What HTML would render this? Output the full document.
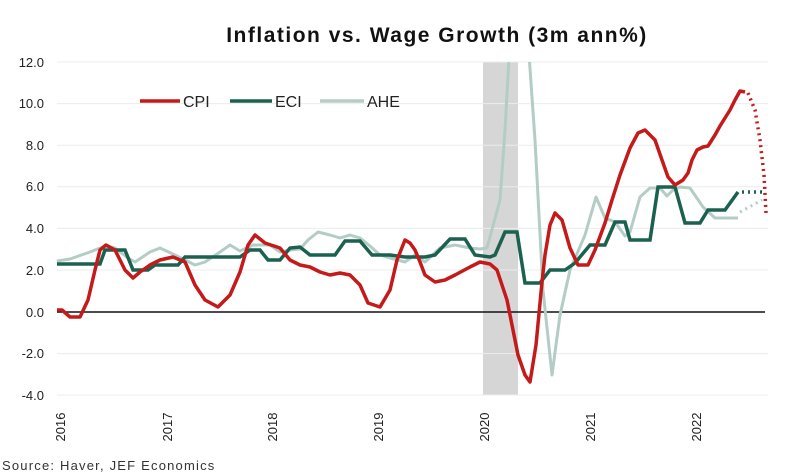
<!DOCTYPE html><html><head><style>body{margin:0;background:#fff}svg{display:block}</style></head><body>
<svg width="796" height="476" viewBox="0 0 796 476" font-family="Liberation Sans, sans-serif">
<text x="437" y="42" text-anchor="middle" font-size="21" font-weight="bold" letter-spacing="1.5" fill="#111">Inflation vs. Wage Growth (3m ann%)</text>
<rect x="483" y="62" width="35" height="333" fill="#d6d6d6"/>
<g stroke="#ececec" stroke-width="1">
<line x1="57" x2="768" y1="62" y2="62"/><line x1="57" x2="768" y1="103.6" y2="103.6"/><line x1="57" x2="768" y1="145.2" y2="145.2"/><line x1="57" x2="768" y1="186.8" y2="186.8"/><line x1="57" x2="768" y1="228.4" y2="228.4"/><line x1="57" x2="768" y1="270" y2="270"/><line x1="57" x2="768" y1="353.6" y2="353.6"/><line x1="57" x2="768" y1="395" y2="395"/></g>
<line x1="57" x2="765" y1="312" y2="312" stroke="#111" stroke-width="1.5"/>
<g font-size="13" fill="#222" text-anchor="end">
<text x="44" y="67">12.0</text><text x="44" y="108">10.0</text><text x="44" y="150">8.0</text><text x="44" y="191">6.0</text><text x="44" y="233">4.0</text><text x="44" y="275">2.0</text><text x="44" y="317">0.0</text><text x="44" y="358">-2.0</text><text x="44" y="400">-4.0</text></g>
<g font-size="13" fill="#222" text-anchor="middle">
<text transform="translate(65,427) rotate(-90)">2016</text><text transform="translate(172,427) rotate(-90)">2017</text><text transform="translate(277,427) rotate(-90)">2018</text><text transform="translate(383,427) rotate(-90)">2019</text><text transform="translate(489,427) rotate(-90)">2020</text><text transform="translate(595,427) rotate(-90)">2021</text><text transform="translate(701,427) rotate(-90)">2022</text></g>
<svg x="0" y="62" width="796" height="340" viewBox="0 62 796 340" overflow="hidden">
<polyline fill="none" stroke="#b3cdc6" stroke-width="3" stroke-linejoin="round" points="57,261 70,259 90,252 105,246 115,248 128,258 135,262 150,252 160,248 175,255 185,260 195,265 205,262 220,252 230,245 240,251 253,245 270,245 280,252 290,250 300,249 308,240 318,232 330,235 340,238 350,235 360,238 370,246 380,255 390,258 405,262 415,255 425,262 440,248 455,245 470,248 480,249 487,248 500,200 505,130 510,40 528,40 535,140 543,290 552,375 560,315 570,270 585,235 596,197 605,218 615,222 625,236 630,232 640,197 650,188 660,188 667,196 673,190 680,187 690,188 703,207 715,218 738,218"/>
</svg>
<polyline fill="none" stroke="#b3cdc6" stroke-width="3" stroke-dasharray="2 4" points="740,212 762,200"/>
<polyline fill="none" stroke="#1b6150" stroke-width="3.5" points="57,264 100,264 105,250 125,250 133,270 148,270 155,265 178,265 185,257 240,257 250,250 260,250 268,260 280,260 290,248 300,247 310,255 335,255 345,241 360,241 372,255 390,255 405,257 425,257 435,255 450,239 465,239 475,255 490,257 495,255 505,232 517,232 525,283 540,283 550,270 565,270 575,263 590,245 605,245 615,222 625,222 630,240 650,240 658,187 675,187 685,223 700,223 708,210 725,210 738,192"/>
<polyline fill="none" stroke="#1b6150" stroke-width="3.5" stroke-dasharray="2 4" points="742,192 762,192"/>
<polyline fill="none" stroke="#c41a1a" stroke-width="3.5" stroke-linejoin="round" points="57,310 62,310 70,317 80,317 88,300 95,270 100,250 106,245 115,250 125,270 133,278 140,272 150,265 160,260 173,257 185,262 195,285 205,300 218,307 230,295 240,272 248,245 255,235 265,243 280,248 290,260 300,265 310,267 320,272 330,275 340,273 350,275 360,285 368,303 380,307 390,290 397,260 405,240 410,243 415,250 420,262 425,275 435,282 445,280 455,275 470,267 480,262 490,264 497,270 502,285 507,300 512,325 518,355 525,375 530,382 536,345 542,282 545,255 550,225 555,213 562,220 570,248 578,265 588,265 595,250 605,223 612,200 620,175 630,148 638,133 645,130 650,135 655,140 662,160 668,177 675,185 683,180 688,173 692,160 697,150 703,147 708,146 715,135 720,126 730,110 735,100 740,91 745,92"/>
<polyline fill="none" stroke="#c41a1a" stroke-width="3.5" stroke-dasharray="2 4" points="748,93 755,110 760,140 764,175 766,213"/>
<line x1="140" x2="180" y1="101" y2="101" stroke="#c41a1a" stroke-width="3.5"/>
<text x="183" y="107" font-size="16" fill="#222">CPI</text>
<line x1="230" x2="272" y1="101" y2="101" stroke="#1b6150" stroke-width="3.5"/>
<text x="275" y="107" font-size="16" fill="#222">ECI</text>
<line x1="320" x2="364" y1="101" y2="101" stroke="#b3cdc6" stroke-width="3.5"/>
<text x="367" y="107" font-size="16" fill="#222">AHE</text>
<text x="2" y="470" font-size="13" letter-spacing="1.2" fill="#333">Source: Haver, JEF Economics</text>
</svg></body></html>
